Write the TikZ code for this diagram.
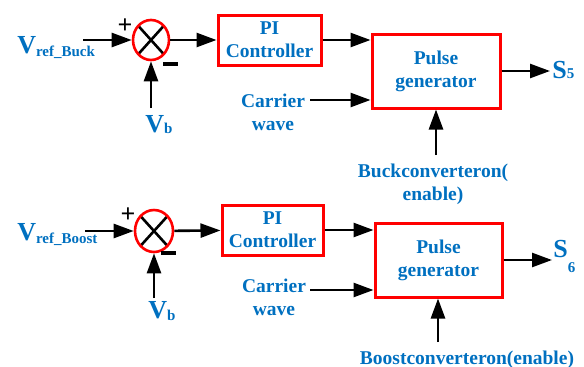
\documentclass[tikz,border=0pt]{standalone}
\usepackage{fontspec}
\setmainfont{Liberation Serif}
\usetikzlibrary{arrows.meta,positioning,shapes.geometric}
\definecolor{txtblue}{RGB}{0,112,192}
\newcommand{\txtfont}{\fontsize{19.5}{23}\selectfont\bfseries}
\newcommand{\sig}[2]{{\fontsize{26}{28}\selectfont #1}{\fontsize{15}{18}\selectfont #2}}

\begin{document}
\begin{tikzpicture}[x=1pt, y=-1pt, ->, >={Triangle[length=20pt,width=14pt]}, line width=2.6pt,
  block/.style={draw=red, line width=3pt, align=center, text=txtblue, font=\txtfont},
  lbl/.style={text=txtblue, font=\txtfont, align=center, inner sep=0pt},
  sumnode/.style={ellipse, draw=red, line width=2.6pt, minimum width=36pt, minimum height=40pt, inner sep=0pt,
    path picture={\draw[-, black, line width=2.6pt] (path picture bounding box.north west) -- (path picture bounding box.south east)
      (path picture bounding box.north east) -- (path picture bounding box.south west);}},
  plus/.style={font=\fontsize{26}{26}\selectfont\bfseries, inner sep=0pt},
  minus/.style={fill=black, minimum width=15pt, minimum height=3.5pt, inner sep=0pt}]
\path[use as bounding box] (0,0) rectangle (584,367);

% buck converter loop
\node[sumnode] (sumA) at (151,40) {};
\node[plus] (plusA) at (125,26) {+};
\node[minus] (minusA) at (170,64) {};
\node[block, minimum width=103pt, minimum height=50pt] (piA) at (269.5,40) {PI\\Controller};
\node[block, minimum width=128pt, minimum height=74pt] (pulseA) at (436,71) {Pulse\\generator};
\node[lbl, anchor=base west] (vrefA) at (16,53) {\sig{V}{\raisebox{-3pt}{ref\_Buck}}};
\node[lbl, anchor=base west] (vbA) at (144,132) {\sig{V}{\raisebox{-1pt}{b}}};
\node[lbl, anchor=base] (carA) at (273,130) {Carrier\\wave};
\node[lbl, anchor=base] (enA) at (433,200) {Buckconverteron(\\enable)};
\node[lbl, anchor=base west] (sA) at (551,78) {\sig{S}{5}};
\coordinate (inA) at (83,40);
\coordinate (vbinA) at (151,108);
\coordinate (carinA) at (310,100);
\coordinate (eninA) at (436,155);
\coordinate (outA) at (550,71);
\draw (inA) -- (sumA);
\draw (vbinA) -- (sumA);
\draw (sumA) -- (piA);
\draw (piA.east) -- (piA.east -| pulseA.west);
\draw (carinA) -- (carinA -| pulseA.west);
\draw (eninA) -- (eninA |- pulseA.south);
\draw (pulseA.east) -- (outA);

% boost converter loop
\node[sumnode, minimum width=38pt, minimum height=42pt] (sumB) at (154,231) {};
\node[plus] (plusB) at (128,215) {+};
\node[minus] (minusB) at (168,253) {};
\node[block, minimum width=101pt, minimum height=50pt] (piB) at (272.5,230) {PI\\Controller};
\node[block, minimum width=127pt, minimum height=74pt] (pulseB) at (438.5,260) {Pulse\\generator};
\node[lbl, anchor=base west] (vrefB) at (16,240) {\sig{V}{\raisebox{-3pt}{ref\_Boost}}};
\node[lbl, anchor=base west] (vbB) at (147,318) {\sig{V}{\raisebox{-2pt}{b}}};
\node[lbl, anchor=base] (carB) at (274,315) {Carrier\\wave};
\node[lbl, anchor=base] (enB) at (467,364) {Boostconverteron(enable)};
\node[lbl, anchor=base west] (sB) at (552,257) {\sig{S}{\raisebox{-15pt}{6}}};
\coordinate (inB) at (85,231);
\coordinate (vbinB) at (154,298);
\coordinate (carinB) at (310,290);
\coordinate (eninB) at (438,342);
\coordinate (outB) at (552,260);
\draw (inB) -- (sumB);
\draw (vbinB) -- (sumB);
\draw (sumB) -- (piB);
\draw (piB.east) -- (piB.east -| pulseB.west);
\draw (carinB) -- (carinB -| pulseB.west);
\draw (eninB) -- (eninB |- pulseB.south);
\draw (pulseB.east) -- (outB);
\end{tikzpicture}
\end{document}
